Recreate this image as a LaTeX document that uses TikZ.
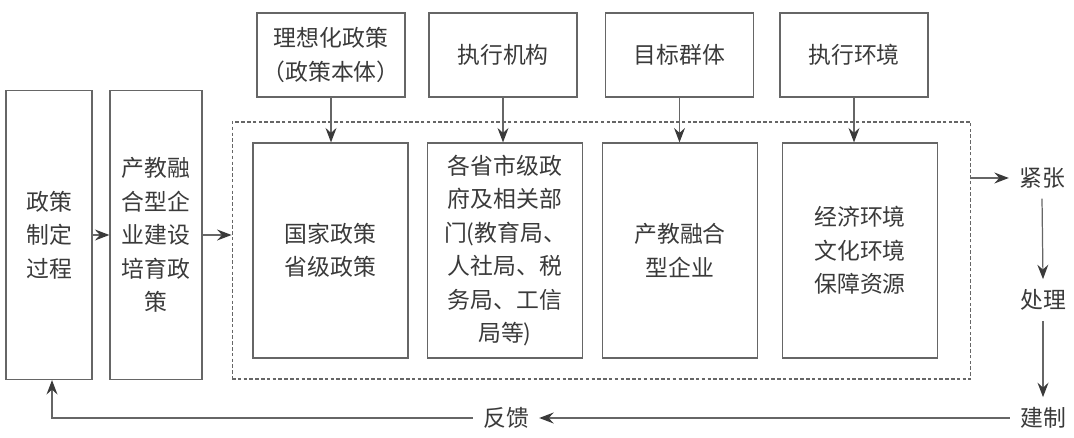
\documentclass[tikz,border=0pt]{standalone}
\usepackage{fontspec}
\setmainfont{Noto Sans CJK SC}
\usetikzlibrary{arrows.meta}

\definecolor{linegray}{HTML}{666666}
\definecolor{textgray}{HTML}{3A3A3A}

\tikzset{
  box/.style={draw=linegray, line width=0.7pt, text=textgray, align=center,
    font=\fontsize{13}{19}\selectfont, inner sep=0pt},
  topbox/.style={box, minimum width=2.96cm, minimum height=1.68cm},
  innerbox/.style={box, minimum width=3.1cm, minimum height=4.3cm},
  sidebox/.style={box, minimum height=5.78cm},
  dashbox/.style={draw=linegray, line width=0.6pt, dash pattern=on 2pt off 1.3pt,
    minimum width=14.78cm, minimum height=5.14cm, inner sep=0pt},
  word/.style={text=textgray, font=\fontsize{13}{19}\selectfont, inner sep=0.2cm},
  arr/.style={draw=linegray, line width=0.7pt,
    -{Stealth[length=0.29cm, width=0.22cm, inset=0.1cm, color=textgray]}},
  plainline/.style={draw=linegray, line width=0.7pt}
}

\begin{document}
\begin{tikzpicture}[x=0.02cm, y=-0.02cm]
    \useasboundingbox (0,0) rectangle (1074,438);

    % Left column
    \node[sidebox, minimum width=1.72cm] (plan) at (49,235) {政策\\制定\\过程};
    \node[sidebox, minimum width=1.84cm] (foster) at (156,235) {产教融\\合型企\\业建设\\培育政\\策};

    % Frame round the four boxes
    \node[dashbox] (frame) at (601.5,250.5) {};

    % Top row
    \node[topbox] (ideal) at (331,55) {理想化政策\\（政策本体）};
    \node[topbox] (agency) at (503,55) {执行机构};
    \node[topbox] (target) at (679.5,55) {目标群体};
    \node[topbox] (env) at (854,55) {执行环境};

    % Inner row
    \node[innerbox] (nation) at (330.5,250.5) {国家政策\\省级政策};
    \node[innerbox] (gov) at (505,250.5) {各省市级政\\府及相关部\\门(教育局、\\人社局、税\\务局、工信\\局等)};
    \node[innerbox] (firm) at (680,250.5) {产教融合\\型企业};
    \node[innerbox] (envir) at (860,250.5) {经济环境\\文化环境\\保障资源};

    % Right column
    \node[word] (tension) at (1042,178) {紧张};
    \node[word] (deal) at (1043,300) {处理};
    \node[word] (build) at (1043,418) {建制};
    \node[word] (feedback) at (506,418) {反馈};
    \coordinate (corner) at (52,418);

    % Connectors
    \draw[arr] (plan.east) -- (foster.west);
    \draw[arr] (foster.east) -- (foster.east -| frame.west);
    \foreach \a/\b in {ideal/nation, agency/gov, target/firm, env/envir}
      \draw[arr] (\a.south) -- (\a.south |- \b.north);
    \draw[arr] (frame.east |- tension) -- (tension.west);
    \draw[arr] (tension.south) -- (deal.north);
    \draw[arr] (deal.south) -- (build.north);
    \draw[arr] (build.west) -- (feedback.east);
    \draw[arr] (feedback.west) -- (corner) -- (corner |- plan.south);
\end{tikzpicture}
\end{document}
